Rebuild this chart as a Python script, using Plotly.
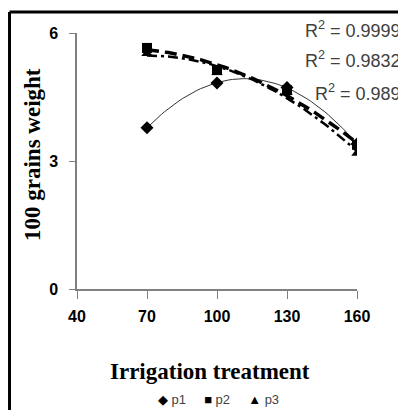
import numpy as np
import plotly.graph_objects as go

# Irrigation treatments and 100-grain weight per population
treatments = [70, 100, 130, 160]
p1 = [3.78, 4.83, 4.72, 3.40]
p2 = [5.65, 5.13, 4.66, 3.38]
p3 = [5.52, 5.08, 4.62, 3.18]
r2_labels = ["R<sup>2</sup> = 0.9999", "R<sup>2</sup> = 0.9832", "R<sup>2</sup> = 0.989"]

x_ticks = [40, 70, 100, 130, 160]
y_ticks = [0, 3, 6]

series = [
    ("p1", p1, "diamond", dict(color="#333333", width=1)),
    ("p2", p2, "square", dict(color="black", width=3.5, dash="12px,6px")),
    ("p3", p3, "triangle-up", dict(color="black", width=2.5, dash="10px,4px,3px,4px")),
]

fig = go.Figure()

# polynomial (order 2) trendlines
xs = np.linspace(min(treatments), max(treatments), 60)
for name, vals, sym, line in series:
    coef = np.polyfit(treatments, vals, 2)
    fig.add_trace(go.Scatter(
        x=xs, y=np.polyval(coef, xs), mode="lines",
        line=line, showlegend=False, hoverinfo="skip",
    ))

for name, vals, sym, line in series:
    fig.add_trace(go.Scatter(
        x=treatments, y=vals, mode="markers", name=name, showlegend=False,
        marker=dict(symbol=sym, size=10, color="black"),
    ))

# page body adds an 8px offset, so the figure is 8px smaller each way
fig.update_layout(
    width=398, height=402,
    margin=dict(l=69, r=49, t=25, b=121, autoexpand=False),
    paper_bgcolor="white", plot_bgcolor="white",
    showlegend=False,
    xaxis=dict(
        range=[40, 160], tickvals=x_ticks, showgrid=False, zeroline=False,
        showline=True, linecolor="#808080", linewidth=1.5,
        ticks="outside", ticklen=8, tickcolor="#808080", ticklabelstandoff=4,
        tickfont=dict(family="Liberation Sans", size=16, color="black", weight="bold"),
    ),
    yaxis=dict(
        range=[0, 6], tickvals=y_ticks, showgrid=False, zeroline=False,
        showline=True, linecolor="#808080", linewidth=1.5,
        ticks="outside", ticklen=6, tickcolor="#808080", ticklabelstandoff=8,
        tickfont=dict(family="Liberation Sans", size=16, color="black", weight="bold"),
    ),
)

# axis titles
fig.add_annotation(
    text="<b>Irrigation treatment</b>", xref="paper", yref="paper",
    x=0.475, y=-0.324, xanchor="center", yanchor="middle", showarrow=False,
    font=dict(family="Liberation Serif", size=23, color="black"),
)
fig.add_annotation(
    text="<b>100 grains weight</b>", xref="paper", yref="paper",
    x=-0.161, y=0.527, xanchor="center", yanchor="middle", showarrow=False,
    textangle=-90, font=dict(family="Liberation Serif", size=23, color="black"),
)

# legend row below the axis title
legend_syms = ["◆", "■", "▲"]
legend_text = "&nbsp;&nbsp;&nbsp;&nbsp;&nbsp;".join(
    f"<span style='color:black'>{s}</span>&nbsp;{name}"
    for s, (name, *_rest) in zip(legend_syms, series)
)
fig.add_annotation(
    text=legend_text, xref="paper", yref="paper",
    x=0.505, y=-0.43, xanchor="center", yanchor="middle", showarrow=False,
    font=dict(family="Liberation Sans", size=13, color="#404040"),
)

# R² labels
for i, lab in enumerate(r2_labels):
    fig.add_annotation(
        text=lab, xref="paper", yref="paper",
        x=1.164, y=[1.012, 0.895, 0.766][i], xanchor="right", yanchor="middle",
        showarrow=False, font=dict(family="Liberation Sans", size=18, color="#404040"),
    )

# outer frame (left and top edges visible)
fig.add_shape(type="line", xref="paper", yref="paper",
              x0=-0.241, x1=1.2, y0=1.082, y1=1.082, line=dict(color="black", width=3))
fig.add_shape(type="line", xref="paper", yref="paper",
              x0=-0.241, x1=-0.241, y0=1.082, y1=-0.48, line=dict(color="black", width=3))

fig.write_html("out.html")
